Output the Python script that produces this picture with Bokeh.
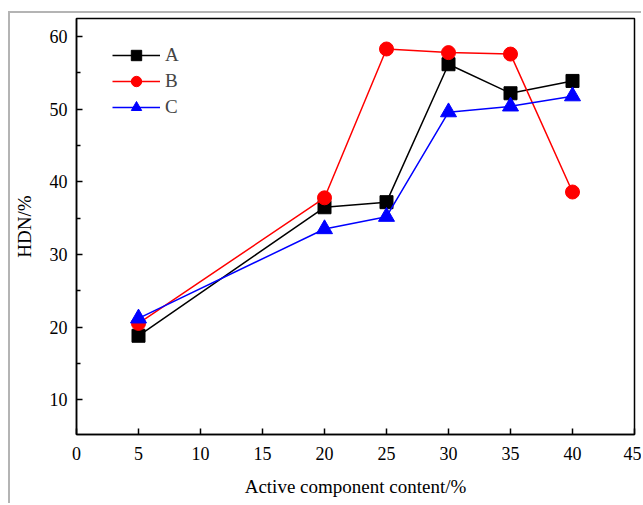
from bokeh.plotting import figure
from bokeh.embed import file_html
from bokeh.resources import INLINE
from bokeh.models import Legend, LegendItem, FixedTicker, Range1d

x = [5, 20, 25, 30, 35, 40]
a_vals = [18.8, 36.5, 37.2, 56.2, 52.2, 53.9]
b_vals = [20.5, 37.8, 58.3, 57.8, 57.6, 38.6]
c_vals = [21.2, 33.5, 35.2, 49.6, 50.4, 51.8]
x_ticks = [0, 5, 10, 15, 20, 25, 30, 35, 40, 45]
y_ticks = [10, 20, 30, 40, 50, 60]
y_minor = [15, 25, 35, 45, 55]

FONT = "Liberation Serif"

p = figure(width=633, height=492, output_backend="svg", toolbar_location=None,
           x_range=Range1d(0, 45), y_range=Range1d(5.2, 62.5),
           min_border_left=63, min_border_right=9, min_border_top=5, min_border_bottom=71,
           x_axis_label="Active component content/%", y_axis_label="HDN/%")
p.styles = {"margin-left": "8px", "margin-top": "11px",
            "border-left": "2px solid #b4b4b4", "border-top": "2px solid #b4b4b4"}
p.grid.visible = False
p.outline_line_color = "black"
p.outline_line_width = 1.5
p.background_fill_color = "white"

for ax in (p.xaxis[0], p.yaxis[0]):
    ax.axis_line_width = 1.5
    ax.major_tick_line_width = 1.5
    ax.minor_tick_line_width = 1.5
    ax.major_tick_in = 6
    ax.major_tick_out = 0
    ax.minor_tick_in = 4
    ax.minor_tick_out = 0
    ax.major_label_text_font = FONT
    ax.major_label_text_font_size = "18px"
    ax.major_label_text_color = "black"
    ax.axis_label_text_font = FONT
    ax.axis_label_text_font_size = "19px"
    ax.axis_label_text_font_style = "normal"
    ax.axis_label_text_color = "black"

p.xaxis[0].ticker = FixedTicker(ticks=x_ticks)
p.xaxis[0].major_label_standoff = 12
p.xaxis[0].axis_label_standoff = 13
p.yaxis[0].ticker = FixedTicker(ticks=y_ticks, minor_ticks=y_minor)
p.yaxis[0].major_label_standoff = 9
p.yaxis[0].axis_label_standoff = 12

la = p.line(x, a_vals, line_color="black", line_width=1.5)
ma = p.scatter(x, a_vals, marker="square", size=13, fill_color="black", line_color="black")
lb = p.line(x, b_vals, line_color="red", line_width=1.5)
mb = p.scatter(x, b_vals, marker="circle", size=14, fill_color="red", line_color="red")
lc = p.line(x, c_vals, line_color="blue", line_width=1.5)
mc = p.scatter(x, c_vals, marker="triangle", size=16, fill_color="blue", line_color="blue")

legend = Legend(items=[LegendItem(label="A", renderers=[la, ma]),
                       LegendItem(label="B", renderers=[lb, mb]),
                       LegendItem(label="C", renderers=[lc, mc])],
                location=(36, 314), border_line_alpha=0, background_fill_alpha=0,
                glyph_width=48, glyph_height=26, label_standoff=5, spacing=0,
                label_text_font=FONT, label_text_font_size="19px",
                margin=0, padding=0)
p.add_layout(legend)

open("out.html", "w").write(file_html(p, INLINE))
